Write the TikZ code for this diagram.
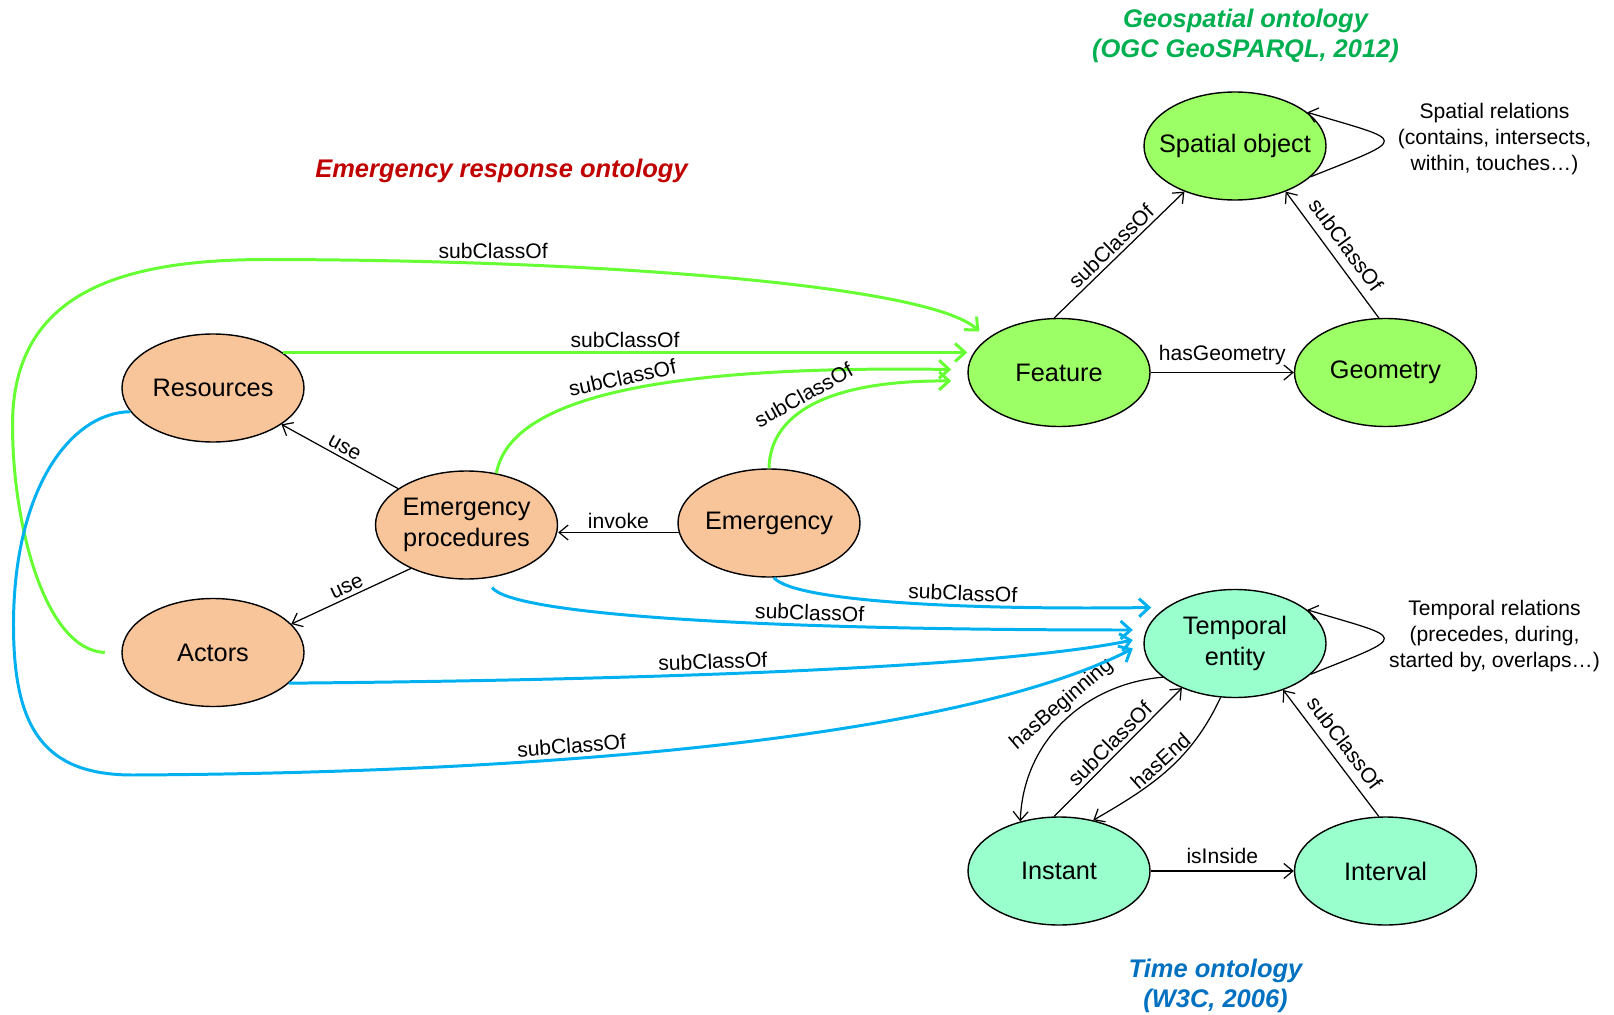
\documentclass[tikz,border=0pt]{standalone}
\usepackage{fontspec}
\setmainfont{Liberation Sans}
\usepackage{xcolor}
\definecolor{ergOrange}{RGB}{248,197,155}
\definecolor{geoFill}{RGB}{156,255,102}
\definecolor{timeFill}{RGB}{153,255,204}
\definecolor{geoLine}{RGB}{102,255,51}
\definecolor{timeLine}{RGB}{0,176,240}
\definecolor{geoTitle}{RGB}{0,176,80}
\definecolor{ergTitle}{RGB}{192,0,0}
\definecolor{timeTitle}{RGB}{0,112,192}
\usetikzlibrary{arrows.meta, shapes.geometric, calc}

\tikzset{
  concept/.style={ellipse, draw, line width=0.8pt, minimum width=3.64cm,
      minimum height=2.16cm, inner sep=0pt, align=center,
      font=\fontsize{14.4}{17.6}\selectfont},
  erg/.style={concept, fill=ergOrange},
  geo/.style={concept, fill=geoFill},
  tim/.style={concept, fill=timeFill},
  rel/.style={draw=black, line width=0.7pt, -{Straight Barb[length=1.8mm,width=3mm]}},
  gline/.style={draw=geoLine, line width=1.7pt, -{Straight Barb[length=2mm,width=3.6mm]}},
  bline/.style={draw=timeLine, line width=1.7pt, -{Straight Barb[length=2mm,width=3.6mm]}},
  lbl/.style={font=\fontsize{12}{14.6}\selectfont, text=black, inner sep=2pt},
  note/.style={font=\fontsize{12}{14.6}\selectfont, align=center},
  heading/.style={font=\fontsize{14.5}{17.4}\selectfont\bfseries\itshape, align=center},
}

\begin{document}
\begin{tikzpicture}

\useasboundingbox (0,0) rectangle (32.28,-20.30);

% === Headings ===
\node[heading, geoTitle] (geohead) at (24.91,-0.72) {Geospatial ontology\\(OGC GeoSPARQL, 2012)};
\node[heading, ergTitle] (erghead) at (10.03,-3.42) {Emergency response ontology};
\node[heading, timeTitle] (timehead) at (24.31,-19.72) {Time ontology\\(W3C, 2006)};

% === Geospatial ontology ===
\node[geo, inner xsep=-0.3cm] (spatial) at (24.70,-2.92) {Spatial object};
\node[geo] (feature) at (21.18,-7.45) {Feature};
\node[geo] (geometry) at (27.71,-7.45) {Geometry};
\node[note] (spatialrel) at (29.89,-2.78) {Spatial relations\\(contains, intersects,\\within, touches…)};

% === Emergency response ontology ===
\node[erg] (resources) at (4.26,-7.76) {Resources};
\node[erg] (procedures) at (9.33,-10.50) {Emergency\\procedures};
\node[erg] (emergency) at (15.38,-10.46) {Emergency};
\node[erg] (actors) at (4.26,-13.05) {Actors};

% === Time ontology ===
\node[tim] (temporal) at (24.70,-12.87) {Temporal\\entity};
\node[tim] (instant) at (21.18,-17.42) {Instant};
\node[tim] (interval) at (27.71,-17.42) {Interval};
\node[note] (temporalrel) at (29.89,-12.72) {Temporal relations\\(precedes, during,\\started by, overlaps…)};

% Geospatial relations
\draw[rel] (feature.95) -- node[lbl, sloped, above] {subClassOf} (spatial.222);
\draw[rel] (geometry.97) -- node[lbl, sloped, above=3pt] {subClassOf} (spatial.-42);
\draw[rel] (feature) -- node[lbl, above=2pt] {hasGeometry} (geometry);
\draw[rel] (spatial.-22) .. controls +(2.0,0.8) and +(2.0,-0.6) .. (spatial.25);

% Emergency relations
\draw[rel] (procedures.152) -- node[lbl, sloped, above] {use} (resources.-28);
\draw[rel] (procedures.218) -- node[lbl, sloped, above] {use} (actors.20);
\draw[rel] (emergency.186) -- node[lbl, above] {invoke} (emergency.186 -| procedures.east);

% Time relations
\draw[rel] (instant) -- node[lbl, above=2pt] {isInside} (interval);
\draw[rel] (interval.97) -- node[lbl, sloped, above=3pt] {subClassOf} (temporal.-44);
\draw[rel] (instant.95) -- node[lbl, sloped, above] {subClassOf} (temporal.220);
\draw[rel] (temporal.205) to[out=185, in=88] node[lbl, sloped, above, pos=0.45] {hasBeginning} (instant.128);
\draw[rel] (temporal.255) to[out=245, in=30] node[lbl, sloped, above, pos=0.5] {hasEnd} (instant.56);
\draw[rel] (temporal.-22) .. controls +(2.0,0.8) and +(2.0,-0.6) .. (temporal.25);

% subClassOf links to Feature
\draw[gline] ([xshift=-0.33cm]actors.west) .. controls (0.9,-13.0) and (0.25,-10.5) .. (0.25,-8.5)
      .. controls (0.25,-5.8) and (2.5,-5.19) .. (5.35,-5.19)
      .. controls (12,-5.2) and (18.6,-5.7) .. ([shift={(0.24,0.82)}]feature.west)
      node[lbl, pos=0.23, above] {subClassOf};
\draw[gline] (resources.27) -- node[lbl, above] {subClassOf} (resources.27 -| feature.west);
\draw[gline] (procedures.60) .. controls (10.2,-8.0) and (13.0,-7.3) .. ([shift={(-0.32,0.06)}]feature.west)
      node[lbl, sloped, above, pos=0.52] {subClassOf};
\draw[gline] (emergency.north) .. controls (15.4,-8.3) and (16.5,-7.6) .. ([shift={(-0.32,-0.17)}]feature.west)
      node[lbl, sloped, above, pos=0.48] {subClassOf};

% subClassOf links to Temporal entity
\draw[bline] (emergency.-85) .. controls (15.9,-12.05) and (19.5,-12.2) .. ([shift={(0.16,0.72)}]temporal.west)
      node[lbl, sloped, above, pos=0.63] {subClassOf};
\draw[bline] ([yshift=-0.2cm]procedures.-64) .. controls (10.2,-12.25) and (14.5,-12.6) .. ([shift={(-0.21,0.27)}]temporal.west)
      node[lbl, sloped, above, pos=0.69] {subClassOf};
\draw[bline] (actors.-22) .. controls (13,-13.6) and (20,-13.35) .. ([shift={(-0.21,0.07)}]temporal.west)
      node[lbl, sloped, above, pos=0.41] {subClassOf};
\draw[bline] (resources.196) .. controls (1.4,-8.25) and (0.27,-9.8) .. (0.27,-12.5)
      .. controls (0.27,-14.6) and (0.9,-15.5) .. (2.66,-15.5)
      .. controls (12,-15.45) and (19.5,-14.6) .. ([shift={(-0.21,-0.10)}]temporal.west)
      node[lbl, sloped, above, pos=0.34] {subClassOf};

\end{tikzpicture}
\end{document}
